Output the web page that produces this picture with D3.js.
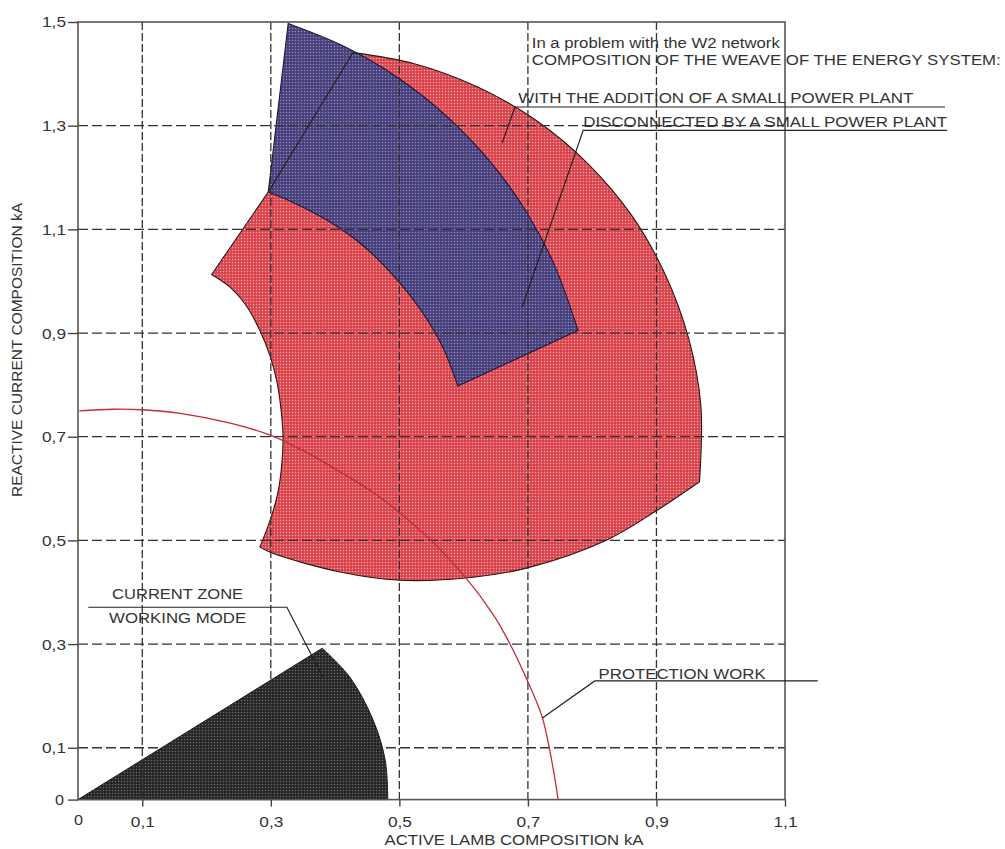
<!DOCTYPE html>
<html><head><meta charset="utf-8">
<script src="https://cdn.jsdelivr.net/npm/d3@7"></script>
<style>
body{margin:0;background:#fff}
text{font-family:"Liberation Sans",Arial,sans-serif;fill:#333}
</style>
</head><body>
<svg id="c" width="1005" height="849"></svg>
<script>
// ---- tick values ----
const xTicks = [0, 0.1, 0.3, 0.5, 0.7, 0.9, 1.1];
const yTicks = [0, 0.1, 0.3, 0.5, 0.7, 0.9, 1.1, 1.3, 1.5];
const xGrid = [0.1, 0.3, 0.5, 0.7, 0.9];
const yGrid = [0.1, 0.3, 0.5, 0.7, 0.9, 1.1, 1.3];

// ---- zone "with the addition of a small power plant" (red), boundary pieces in kA ----
const redOuterArc = [[0.428,1.441],[0.522,1.420],[0.621,1.375],[0.713,1.310],[0.794,1.226],[0.862,1.126],
  [0.914,1.012],[0.950,0.890],[0.969,0.761],[0.967,0.613]];
const redBottomArc = [[0.967,0.613],[0.901,0.558],[0.823,0.501],[0.699,0.447],[0.615,0.429],[0.501,0.423],
  [0.408,0.439],[0.303,0.475],[0.283,0.487]];
const redInnerArc = [[0.283,0.487],[0.299,0.539],[0.311,0.592],[0.317,0.646],[0.319,0.699],[0.316,0.751],
  [0.310,0.803],[0.299,0.855],[0.283,0.905],[0.261,0.954],[0.237,0.988],[0.208,1.013]];
const redCorner = [[0.296,1.172]];

// ---- zone "disconnected by a small power plant" (blue) ----
const blueOuterArc = [[0.327,1.497],[0.412,1.454],[0.496,1.394],[0.572,1.320],[0.639,1.234],[0.696,1.137],
  [0.741,1.032],[0.778,0.905]];
const blueInnerArc = [[0.591,0.798],[0.567,0.874],[0.533,0.945],[0.492,1.009],[0.445,1.067],[0.391,1.115],
  [0.333,1.153],[0.296,1.172]];

// ---- current zone of working mode (black) ----
const workOrigin = [[0,0],[0.380,0.292]];
const workArc = [[0.380,0.292],[0.423,0.236],[0.459,0.154],[0.478,0.076],[0.482,0]];

// ---- protection work curve ----
const protection = [[0.002,0.750],[0.054,0.753],[0.100,0.752],[0.159,0.745],[0.237,0.726],[0.299,0.703],
  [0.360,0.667],[0.408,0.632],[0.460,0.592],[0.501,0.553],[0.552,0.497],[0.602,0.430],[0.646,0.357],
  [0.668,0.310],[0.699,0.230],[0.722,0.160],[0.734,0.095],[0.742,0.040],[0.747,0.000]];

// ---- annotation texts ----
const titleLines = ["In a problem with the W2 network", "COMPOSITION OF THE WEAVE OF THE ENERGY SYSTEM:"];
const labelWith = "WITH THE ADDITION OF A SMALL POWER PLANT";
const labelWithout = "DISCONNECTED BY A SMALL POWER PLANT";
const labelZone = ["CURRENT ZONE", "WORKING MODE"];
const labelProt = "PROTECTION WORK";
const xTitle = "ACTIVE LAMB COMPOSITION kA";
const yTitle = "REACTIVE CURRENT COMPOSITION kA";

// leader lines (kA)
const leaderWith = [[0.660,1.267],[0.680,1.336],[1.349,1.336]];
const leaderWithout = [[0.691,0.950],[0.786,1.291],[1.352,1.291]];
const leaderZone = [[0.381,0.236],[0.325,0.371],[0.016,0.371]];
const leaderProt = [[0.722,0.157],[0.804,0.229],[1.151,0.229]];

// ================= drawing =================
const svg = d3.select("#c");
const x = d3.scaleLinear([0, 1.1], [78, 785]);
const y = d3.scaleLinear([0, 1.5], [799.6, 22]);
const fmt = v => String(v).replace(".", ",");
const FS = 15.5;

// patterns (dotted screen)
const defs = svg.append("defs");
function pattern(id, base, dot, op) {
  const p = defs.append("pattern").attr("id", id).attr("patternUnits", "userSpaceOnUse")
    .attr("width", 3).attr("height", 3);
  p.append("rect").attr("width", 3).attr("height", 3).attr("fill", base);
  p.append("circle").attr("cx", 1.5).attr("cy", 1.5).attr("r", 0.75).attr("fill", dot).attr("opacity", op);
}
pattern("pRed", "#db434b", "#fff", 0.55);
pattern("pBlue", "#463f7c", "#cfcde6", 0.55);
pattern("pBlack", "#262626", "#9a9a9a", 0.6);

const curve = d3.line().x(d => x(d[0])).y(d => y(d[1])).curve(d3.curveCatmullRom.alpha(0.5));
const straight = d3.line().x(d => x(d[0])).y(d => y(d[1]));
function shape(pieces) {
  let s = "";
  pieces.forEach((pts, i) => {
    let part;
    if (pts.length >= 3) part = curve(pts);
    else part = pts.map((p, j) => (j === 0 ? "M" : "L") + x(p[0]) + "," + y(p[1])).join("");
    if (i > 0) part = "L" + part.slice(1);
    s += part;
  });
  return s + "Z";
}

const gShapes = svg.append("g");
const redPath = shape([redOuterArc, redBottomArc, redInnerArc, redCorner]);
const bluePath = shape([blueOuterArc, blueInnerArc]);
const blackPath = shape([workOrigin, workArc]);

gShapes.append("path").attr("d", redPath).attr("fill", "url(#pRed)");
gShapes.append("path").attr("d", bluePath).attr("fill", "url(#pBlue)");
gShapes.append("path").attr("d", blackPath).attr("fill", "url(#pBlack)");
gShapes.append("path").attr("d", redPath).attr("fill", "none").attr("stroke", "#2a1518").attr("stroke-width", 1.1);
gShapes.append("path").attr("d", bluePath).attr("fill", "none").attr("stroke", "#1d1838").attr("stroke-width", 1.1);
gShapes.append("path").attr("d", blackPath).attr("fill", "none").attr("stroke", "#1a1a1a").attr("stroke-width", 1);

// grid
const gGrid = svg.append("g");
gGrid.selectAll(".hg").data(yGrid).join("line")
  .attr("x1", x(0)).attr("x2", x(1.1)).attr("y1", d => y(d)).attr("y2", d => y(d))
  .attr("stroke", "#333").attr("stroke-width", 1.3).attr("stroke-dasharray", "10,4");
gGrid.selectAll(".vg").data(xGrid).join("line")
  .attr("y1", y(1.5)).attr("y2", y(0)).attr("x1", d => x(d)).attr("x2", d => x(d))
  .attr("stroke", "#333").attr("stroke-width", 1.3).attr("stroke-dasharray", "8,3");

// frame
svg.append("rect").attr("x", x(0)).attr("y", y(1.5)).attr("width", x(1.1) - x(0)).attr("height", y(0) - y(1.5))
  .attr("fill", "none").attr("stroke", "#555").attr("stroke-width", 1.6);

// axes
const ax = svg.append("g").attr("transform", `translate(0,${y(0)})`)
  .call(d3.axisBottom(x).tickValues(xTicks).tickFormat(fmt).tickSize(7).tickPadding(6));
const ay = svg.append("g").attr("transform", `translate(${x(0)},0)`)
  .call(d3.axisLeft(y).tickValues(yTicks).tickFormat(fmt).tickSize(10).tickPadding(2));
[ax, ay].forEach(g => {
  g.select(".domain").remove();
  g.selectAll(".tick line").attr("stroke", "#444").attr("stroke-width", 1.4);
  g.selectAll(".tick text").attr("font-size", FS).attr("fill", "#333")
    .style("font-family", '"Liberation Sans", Arial, sans-serif')
    .attr("textLength", d => d === 0 ? 9 : 24).attr("lengthAdjust", "spacingAndGlyphs");
});
ax.selectAll(".tick text").attr("dy", "0.95em");
ax.selectAll(".tick").filter(d => d === 0).select("line").remove();
ax.selectAll(".tick").filter(d => d === 0).select("text").attr("dy", "0.78em");
ay.selectAll(".tick").filter(d => d === 0).select("text").attr("x", -14);

// protection curve
svg.append("path").attr("d", d3.line().x(d => x(d[0])).y(d => y(d[1])).curve(d3.curveCatmullRom)(protection))
  .attr("fill", "none").attr("stroke", "#c22c3a").attr("stroke-width", 1.3);

// leaders
[leaderWith, leaderWithout, leaderZone, leaderProt].forEach(l => {
  svg.append("path").attr("d", straight(l)).attr("fill", "none").attr("stroke", "#222").attr("stroke-width", 1.2);
});

// texts
function txt(str, px, py, opts = {}) {
  const t = svg.append("text").attr("x", px).attr("y", py).attr("font-size", opts.fs || FS).text(str);
  if (opts.anchor) t.attr("text-anchor", opts.anchor);
  if (opts.len) t.attr("textLength", opts.len).attr("lengthAdjust", "spacingAndGlyphs");
  return t;
}
txt(titleLines[0], x(0.706), y(1.449), {len: 248});
txt(titleLines[1], x(0.706), y(1.417), {len: 469});
txt(labelWith, x(0.685), y(1.343), {len: 395});
txt(labelWithout, x(0.786), y(1.298), {len: 364});
txt(labelZone[0], x(0.155), y(0.387), {anchor: "middle", len: 131});
txt(labelZone[1], x(0.155), y(0.340), {anchor: "middle", len: 137});
txt(labelProt, x(0.810), y(0.233), {len: 167});
txt(xTitle, x(0.683) - 3, 845, {anchor: "middle", len: 259});
svg.append("text").attr("transform", `translate(22,350) rotate(-90)`).attr("text-anchor", "middle")
  .attr("font-size", FS).attr("textLength", 294).attr("lengthAdjust", "spacingAndGlyphs").text(yTitle);
</script>
</body></html>
